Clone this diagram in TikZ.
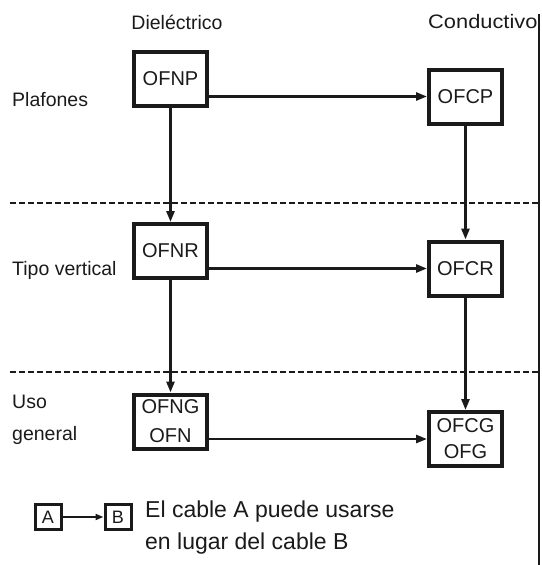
\documentclass[tikz,border=0pt]{standalone}
\usepackage{fontspec}
\setmainfont{Liberation Sans}
\usetikzlibrary{arrows.meta}
\definecolor{ink}{HTML}{1A1A1A}
\tikzset{
  cable/.style={draw=ink, line width=4pt, minimum width=73pt, minimum height=54pt, inner sep=0pt, text=ink, font=\fontsize{20}{24}\selectfont, align=center},
  lbl/.style={text=ink, font=\fontsize{19.5}{32}\selectfont, inner sep=0pt, align=left},
  conn/.style={draw=ink, line width=2.6pt, -{Triangle[length=11pt,width=8pt]}},
  sep/.style={draw=ink, line width=2.2pt, dash pattern=on 6pt off 3pt},
  mini/.style={draw=ink, line width=3pt, minimum width=26pt, minimum height=25pt, inner sep=0pt, text=ink, font=\fontsize{18}{20}\selectfont},
}
\begin{document}
\begin{tikzpicture}[x=1pt,y=-1pt]
\useasboundingbox (0,0) rectangle (541,565);
% column headers
\node[lbl] (hd) at (177,22) {Dieléctrico};
\node[lbl, anchor=west, xscale=1.12, transform shape] (hc) at (428,22) {Conductivo};
% row labels
\node[lbl, anchor=west] (rp) at (12,100) {Plafones};
\node[lbl, anchor=west] (rv) at (12,270) {Tipo vertical};
\node[lbl, anchor=west] (rg) at (12,420) {Uso\\general};
% separators
\coordinate (s1a) at (10,203); \coordinate (s1b) at (539,203);
\coordinate (s2a) at (10,372); \coordinate (s2b) at (539,372);
\draw[sep] (s1a) -- (s1b);
\draw[sep] (s2a) -- (s2b);
% right edge line
\coordinate (ra) at (539,14); \coordinate (rb) at (539,565);
\draw[ink, line width=1.4pt] (ra) -- (rb);
% boxes
\node[cable] (OFNP) at (170.5,79) {OFNP};
\node[cable] (OFCP) at (465.5,96.5) {OFCP};
\node[cable] (OFNR) at (170.5,251) {OFNR};
\node[cable] (OFCR) at (465.5,268.5) {OFCR};
\node[cable, font=\fontsize{20}{29}\selectfont] (OFNG) at (170.5,421.5) {OFNG\\OFN};
\node[cable, font=\fontsize{20}{26}\selectfont] (OFCG) at (465.5,439) {OFCG\\OFG};
% connectors
\draw[conn] (OFNP.east |- OFCP) -- (OFCP.west);
\draw[conn] (OFNR.east |- OFCR) -- (OFCR.west);
\draw[conn] (OFNG.east |- OFCG) -- (OFCG.west);
\draw[conn] (OFNP.south) -- (OFNR.north);
\draw[conn] (OFNR.south) -- (OFNG.north);
\draw[conn] (OFCP.south) -- (OFCR.north);
\draw[conn] (OFCR.south) -- (OFCG.north);
% legend
\node[mini] (LA) at (48,517) {A};
\node[mini] (LB) at (118,517) {B};
\draw[draw=ink, line width=2.4pt, -{Triangle[length=8pt,width=6pt]}] (LA) -- (LB);
\node[lbl, anchor=north west, font=\fontsize{23}{32}\selectfont] (lt) at (145,501) {El cable A puede usarse\\en lugar del cable B};
\end{tikzpicture}
\end{document}
